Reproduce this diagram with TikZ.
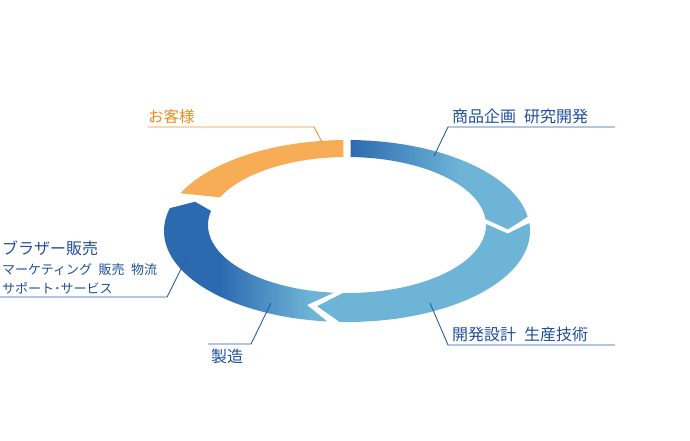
\documentclass[tikz,border=0pt]{standalone}
\usepackage{fontspec}
\setmainfont{Noto Sans CJK JP}
\definecolor{dblue}{HTML}{2C6AAF}
\definecolor{lblue}{HTML}{6DB4D7}
\definecolor{ringorange}{HTML}{F6AD55}
\definecolor{txtblue}{HTML}{1F4F9B}
\definecolor{txtorange}{HTML}{EE8A1F}
\definecolor{lineblue}{HTML}{2A5CA6}
\definecolor{lineorange}{HTML}{F0902A}
\newcommand{\gapsp}{\hspace{0.5em}}
\begin{document}
\begin{tikzpicture}[x=1pt,y=-1pt,
  declare function={
    ox(\t)=347+183*cos(\t); oy(\t)=231-91*sin(\t);
    ix(\t)=347+139*cos(\t); iy(\t)=225-68*sin(\t);
    mx(\t)=347+161*cos(\t); my(\t)=228-79.5*sin(\t);
  },
  lbl/.style={anchor=west, inner sep=0pt, font=\fontsize{16}{19}\selectfont, text=txtblue},
  sublbl/.style={lbl, font=\fontsize{13}{15}\selectfont},
  leader/.style={draw=lineblue, line width=0.9pt},
  orleader/.style={draw=lineorange, line width=0.9pt},
]
\useasboundingbox (0,0) rectangle (690,440);

% segment 1: 商品企画 研究開発
\def\segA{plot[domain=0:1,samples=80] ({ox(88.9+(9-88.9)*\x)},{oy(88.9+(9-88.9)*\x)})
  -- ({mx(-1)},{my(-1)})
  -- plot[domain=0:1,samples=80] ({ix(5+(88.56-5)*\x)},{iy(5+(88.56-5)*\x)}) -- cycle}
\begin{scope}
  \clip \segA;
  \shade[left color=dblue, right color=lblue] (349,130) rectangle (460,250);
  \fill[lblue] (459.5,130) rectangle (540,250);
\end{scope}

% segment 2: 開発設計 生産技術
\fill[lblue] plot[domain=0:1,samples=100] ({ox(5+(-92.5-5)*\x)},{oy(5+(-92.5-5)*\x)})
  -- ({mx(-100.7)},{my(-100.7)})
  -- plot[domain=0:1,samples=100] ({ix(-91.6+(1+91.6)*\x)},{iy(-91.6+(1+91.6)*\x)})
  -- ({mx(-4)},{my(-4)}) -- cycle;

% segment 3: 製造 / ブラザー販売
\def\segC{plot[domain=0:1,samples=100] ({ox(-96.2+(-194.7+96.2)*\x)},{oy(-96.2+(-194.7+96.2)*\x)})
  -- ({mx(-199.3)},{my(-199.3)})
  -- plot[domain=0:1,samples=100] ({ix(-192+(-95.3+192)*\x)},{iy(-192+(-95.3+192)*\x)})
  -- ({mx(-104.4)},{my(-104.4)}) -- cycle}
\begin{scope}
  \clip \segC;
  \fill[dblue] (150,180) rectangle (220.5,340);
  \shade[left color=dblue, right color=lblue] (220,180) rectangle (310,340);
  \fill[lblue] (309.5,180) rectangle (350,340);
\end{scope}

% segment 4: お客様
\fill[ringorange] plot[domain=0:1,samples=80] ({ox(155.5+(91.1-155.5)*\x)},{oy(155.5+(91.1-155.5)*\x)})
  -- plot[domain=0:1,samples=80] ({ix(91.44+(156-91.44)*\x)},{iy(91.44+(156-91.44)*\x)}) -- cycle;

% labels
\node[lbl, text=txtorange, font=\fontsize{15.5}{18}\selectfont] (kyaku) at (148,116.5) {お客様};
\node[lbl] (kikaku) at (452,116.5) {商品企画\gapsp 研究開発};
\node[lbl] (hanbai) at (2,248.5) {ブラザー販売};
\node[sublbl] (hanbai2) at (2,270) {マーケティング\gapsp 販売\gapsp 物流};
\node[sublbl] (hanbai3) at (2,288) {サポート･サービス};
\node[lbl] (seizo) at (211,356) {製造};
\node[lbl] (kaihatsu) at (452,334) {開発設計\gapsp 生産技術};

% leader coordinates
\coordinate (kyakuA) at (148,127);
\coordinate (kyakuB) at (314,127);
\coordinate (kyakuC) at (322,142);
\coordinate (kikakuA) at (615,127);
\coordinate (kikakuB) at (448,127);
\coordinate (kikakuC) at (434,156);
\coordinate (hanbaiA) at (0,297);
\coordinate (hanbaiB) at (167,297);
\coordinate (hanbaiC) at (187,257);
\coordinate (seizoA) at (208,344);
\coordinate (seizoB) at (251,344);
\coordinate (seizoC) at (271,303);
\coordinate (kaihatsuA) at (615,345);
\coordinate (kaihatsuB) at (448,345);
\coordinate (kaihatsuC) at (430,303);

\draw[orleader] (kyakuA) -- (kyakuB) -- (kyakuC);
\draw[leader] (kikakuA) -- (kikakuB) -- (kikakuC);
\draw[leader] (hanbaiA) -- (hanbaiB) -- (hanbaiC);
\draw[leader] (seizoA) -- (seizoB) -- (seizoC);
\draw[leader] (kaihatsuA) -- (kaihatsuB) -- (kaihatsuC);
\end{tikzpicture}
\end{document}
